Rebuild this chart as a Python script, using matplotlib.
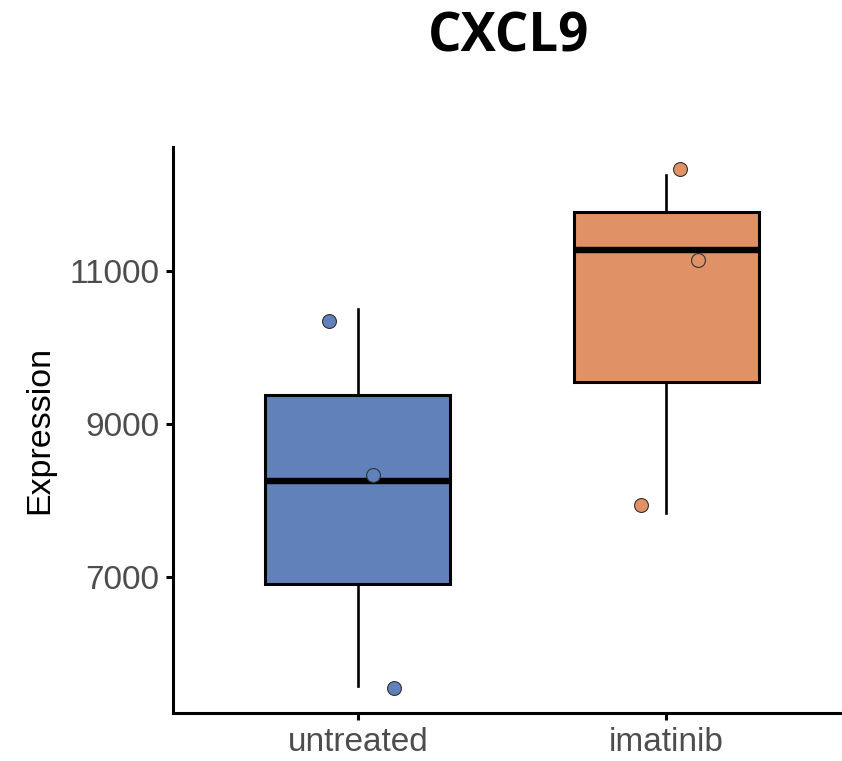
import matplotlib
matplotlib.use("Agg")
import matplotlib.pyplot as plt
import numpy as np

categories = ["untreated", "imatinib"]
untreated_values = [5570, 8250, 10500]
imatinib_values = [7830, 11280, 12250]
# jittered display of the points
untreated_points_y = [10350, 8330, 5550]
untreated_points_dx = [-0.094, 0.049, 0.117]
imatinib_points_y = [12330, 11150, 7940]
imatinib_points_dx = [0.045, 0.104, -0.081]
colors = ["#6181BA", "#E09166"]
yticks = [7000, 9000, 11000]

fig = plt.figure(figsize=(8.42, 7.61), dpi=100)
ax = fig.add_axes([173/842, 48/761, 678/842, (713-147)/761])

data = [untreated_values, imatinib_values]
bp = ax.boxplot(data, positions=[1, 2], widths=0.6, patch_artist=True,
                whis=10, showcaps=False, showfliers=False,
                boxprops=dict(linewidth=2.2, edgecolor="black"),
                medianprops=dict(linewidth=4.6, color="black", solid_capstyle="butt"),
                whiskerprops=dict(linewidth=1.9, color="black"),
                zorder=2)
for patch, c in zip(bp["boxes"], colors):
    patch.set_facecolor(c)

pts = [(untreated_points_dx, untreated_points_y), (imatinib_points_dx, imatinib_points_y)]
for i, ((dx, ys), c) in enumerate(zip(pts, colors)):
    xs = np.array(dx) + (i + 1)
    ax.scatter(xs, ys, s=100, color=c, edgecolor="#333333", linewidth=0.8, zorder=4)

ax.set_xlim(0.4, 2.6)
ax.set_ylim(5222, 12621)
ax.set_xticks([1, 2])
ax.set_xticklabels(categories)
ax.set_yticks(yticks)
ax.set_yticklabels([str(t) for t in yticks])
for s in ["top", "right"]:
    ax.spines[s].set_visible(False)
for s in ["left", "bottom"]:
    ax.spines[s].set_linewidth(2.2)
    ax.spines[s].set_color("black")
ax.tick_params(axis="both", length=5, width=2.2, color="black",
               labelsize=24, labelcolor="#4D4D4D", pad=5)
for lab in ax.get_xticklabels() + ax.get_yticklabels():
    lab.set_family("Liberation Sans")
ax.set_ylabel("Expression", fontsize=24.5, family="Liberation Sans", color="black", labelpad=10)

fig.text(509/842, 1 - 37/761, "CXCL9", ha="center", va="center",
         fontsize=38, fontweight="bold", family=["Open Sans", "DejaVu Sans"])

fig.savefig("out.png", dpi=100)
